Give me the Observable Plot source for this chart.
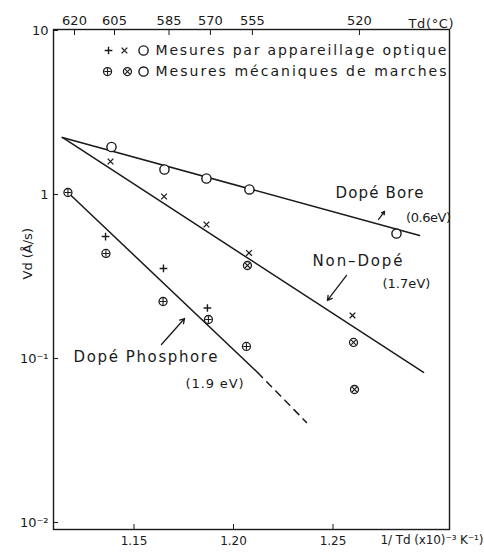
<!DOCTYPE html>
<html><head><meta charset="utf-8">
<script src="https://cdn.jsdelivr.net/npm/d3@7"></script>
<script src="https://cdn.jsdelivr.net/npm/@observablehq/plot@0.6"></script>
<style>html,body{margin:0;padding:0;background:#fff} svg{display:block}</style>
</head><body><div id="chart"></div>
<script>
// ---- data (x = 1/Td in 10^-3 K^-1, v = Vd in Å/s) ----
// optical measurements: "+" phosphore, "x" non-dopé, "O" bore
const boreOptX = [1.1387, 1.1653, 1.1864, 1.2080, 1.2819];
const boreOptV = [1.948, 1.420, 1.252, 1.073, 0.578];
const nonOptX = [1.1382, 1.1651, 1.1864, 1.2078, 1.2598];
const nonOptV = [1.589, 0.972, 0.656, 0.440, 0.183];
const phosOptX = [1.1357, 1.1648, 1.1869];
const phosOptV = [0.554, 0.354, 0.2032];
// mechanical step measurements: "⊕" phosphore, "⊗" non-dopé
const nonMecX = [1.2070, 1.2603, 1.2608];
const nonMecV = [0.369, 0.1252, 0.0647];
const phosMecX = [1.1168, 1.1359, 1.1646, 1.1874, 1.2065];
const phosMecV = [1.028, 0.437, 0.2226, 0.1729, 0.1184];
// fitted lines
const boreLineX = [1.1140, 1.2935], boreLineV = [2.226, 0.562];
const nonLineX = [1.1140, 1.2955], nonLineV = [2.226, 0.0822];
const phosLineX = [1.1168, 1.2121], phosLineV = [1.028, 0.0822];
const phosDashX = [1.2121, 1.2367], phosDashV = [0.0822, 0.0407];
// axes
const bottomTicks = [1.15, 1.20, 1.25];
const topTemps = [620, 605, 585, 570, 555, 520];
const topInvT = [1.1201, 1.1402, 1.1676, 1.1884, 1.2095, 1.2633];
const yTicks = [10, 1, 0.1, 0.01];
const yTickLabels = ["10", "1", "10⁻¹", "10⁻²"];
// annotations
const annotText = ["Dopé Bore", "(0.6eV)", "Non–Dopé", "(1.7eV)", "Dopé Phosphore", "(1.9 eV)"];
const annotX = [1.2734, 1.2980, 1.2623, 1.2869, 1.1558, 1.1905];
const annotV = [1.014, 0.7243, 0.3905, 0.2867, 0.1014, 0.0704];
const arrowX1 = [1.2729, 1.2568, 1.1638], arrowV1 = [0.704, 0.3208, 0.1217];
const arrowX2 = [1.2759, 1.2472, 1.1754], arrowV2 = [0.788, 0.2258, 0.1753];
// legend
const legendText = ["Mesures par appareillage optique", "Mesures mécaniques de marches"];
const legendRowV = [7.55, 5.62];
const legendKinds = [["+", "x", "O"], ["⊕", "⊗", "O"]];
const legendSymX = [[1.1372, 1.1452, 1.1548], [1.1367, 1.1467, 1.1548]];
const legendTextX = 1.1608;

// ---- tables ----
const zip = (xs, vs, kind) => xs.map((x, i) => ({x, v: vs[i], kind}));
const points = [
  ...zip(boreOptX, boreOptV, "O"),
  ...zip(nonOptX, nonOptV, "x"),
  ...zip(phosOptX, phosOptV, "+"),
  ...zip(nonMecX, nonMecV, "⊗"),
  ...zip(phosMecX, phosMecV, "⊕"),
  ...legendKinds.flatMap((row, r) => row.map((k, j) => ({x: legendSymX[r][j], v: legendRowV[r], kind: k})))
];
const annots = annotText.map((t, i) => ({t, x: annotX[i], v: annotV[i]}));
const arrows = arrowX1.map((x, i) => ({x1: x, v1: arrowV1[i], x2: arrowX2[i], v2: arrowV2[i]}));
const legends = legendText.map((t, i) => ({t, x: legendTextX, v: legendRowV[i]}));

const ink = "#1a1a1a";
const sel = (ks) => points.filter(d => ks.includes(d.kind));
const fmtY = d => yTickLabels[yTicks.indexOf(d)];
const fmtTop = d => String(topTemps[topInvT.indexOf(d)]);

const chart = Plot.plot({
  width: 484, height: 553,
  marginLeft: 53, marginRight: 35, marginTop: 29, marginBottom: 24,
  x: {domain: [1.10955, 1.30854], axis: null},
  y: {type: "log", domain: [0.00906, 10.14], axis: null},
  style: {fontFamily: "DejaVu Sans, sans-serif", color: ink, background: "white"},
  marks: [
    Plot.frame({stroke: ink, strokeWidth: 1.4}),
    Plot.axisX(bottomTicks, {anchor: "bottom", tickSize: -5, tickPadding: 12, tickFormat: d3.format(".2f"), fontSize: 12, label: null, stroke: ink}),
    Plot.axisX(topInvT, {anchor: "top", tickSize: -5, tickPadding: 10, tickFormat: fmtTop, fontSize: 13, label: null, stroke: ink}),
    Plot.axisY(yTicks, {anchor: "left", tickSize: -5, tickPadding: 10, tickFormat: fmtY, fontSize: 13, label: null, stroke: ink}),
    Plot.text(["Td(°C)"], {frameAnchor: "top-right", textAnchor: "end", dx: 4, dy: -11, fontSize: 13, fill: ink}),
    Plot.text(["1/ Td (x10)⁻³ K⁻¹)"], {frameAnchor: "bottom-right", textAnchor: "end", dx: 34, dy: 14, fontSize: 12, fill: ink}),
    Plot.text(["Vd (Å/s)"], {frameAnchor: "left", rotate: -90, dx: -26, fontSize: 13, fill: ink}),
    // fitted lines
    Plot.line(zip(boreLineX, boreLineV), {x: "x", y: "v", stroke: ink, strokeWidth: 1.5}),
    Plot.line(zip(nonLineX, nonLineV), {x: "x", y: "v", stroke: ink, strokeWidth: 1.5}),
    Plot.line(zip(phosLineX, phosLineV), {x: "x", y: "v", stroke: ink, strokeWidth: 1.5}),
    Plot.line(zip(phosDashX, phosDashV), {x: "x", y: "v", stroke: ink, strokeWidth: 1.5, strokeDasharray: "7,6"}),
    // points
    Plot.dot(sel(["O"]), {x: "x", y: "v", r: 4.6, stroke: ink, strokeWidth: 1.4, fill: "white"}),
    Plot.dot(sel(["⊕", "⊗"]), {x: "x", y: "v", r: 4, stroke: ink, strokeWidth: 1.3, fill: "white"}),
    Plot.dot(sel(["+"]), {x: "x", y: "v", symbol: "plus", r: 2.6, stroke: ink, strokeWidth: 1.4}),
    Plot.dot(sel(["⊕"]), {x: "x", y: "v", symbol: "plus", r: 2.2, stroke: ink, strokeWidth: 1.1}),
    Plot.dot(sel(["x"]), {x: "x", y: "v", symbol: "times", r: 2.7, stroke: ink, strokeWidth: 1.3}),
    Plot.dot(sel(["⊗"]), {x: "x", y: "v", symbol: "times", r: 2.4, stroke: ink, strokeWidth: 1.1}),
    // annotations
    Plot.arrow(arrows, {x1: "x1", y1: "v1", x2: "x2", y2: "v2", stroke: ink, strokeWidth: 1.3, headLength: 6}),
    Plot.text(annots.filter(d => !d.t.startsWith("(")), {x: "x", y: "v", text: "t", fontSize: 15, fill: ink}),
    Plot.text(annots.filter(d => d.t.startsWith("(")), {x: "x", y: "v", text: "t", fontSize: 13, fill: ink}),
    Plot.text(legends, {x: "x", y: "v", text: "t", textAnchor: "start", fontSize: 14, fill: ink})
  ]
});
document.getElementById("chart").appendChild(chart);

// stretch lettering to the widths seen in the reference
const fitWidth = new Map([
  ["Dopé Bore", 88], ["(0.6eV)", 45], ["Non–Dopé", 90], ["(1.7eV)", 48],
  ["Dopé Phosphore", 144], ["(1.9 eV)", 58],
  ["Mesures par appareillage optique", 291], ["Mesures mécaniques de marches", 291],
  ["1/ Td (x10)⁻³ K⁻¹)", 103], ["Td(°C)", 45]
]);
d3.select(chart).selectAll("text").each(function () {
  const t = this.textContent;
  if (fitWidth.has(t)) d3.select(this).attr("textLength", fitWidth.get(t)).attr("lengthAdjust", "spacing");
});
</script>
</body></html>
